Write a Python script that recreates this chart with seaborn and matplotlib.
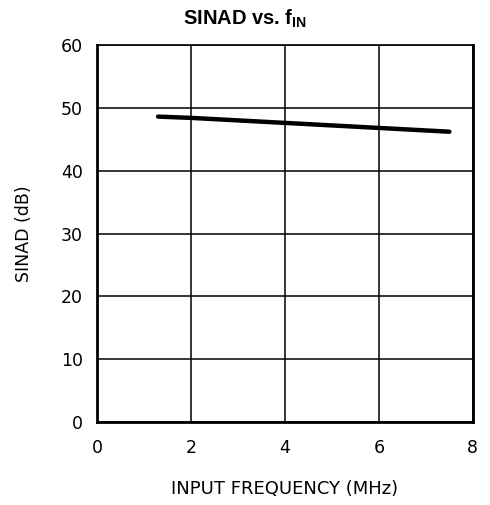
import numpy as np
import pandas as pd
import matplotlib
matplotlib.use("Agg")
import matplotlib.pyplot as plt
import seaborn as sns

# values
freq_mhz = [1.3, 2.0, 4.0, 6.0, 7.5]
sinad_db = [48.6, 48.4, 47.6, 46.8, 46.2]
x_ticks = [0, 2, 4, 6, 8]
y_ticks = [0, 10, 20, 30, 40, 50, 60]

sns.set_theme(style="white")
plt.rcParams['font.family'] = ['DejaVu Sans']
plt.rcParams['mathtext.fontset'] = 'custom'
plt.rcParams['mathtext.bf'] = 'Liberation Sans:bold'

df = pd.DataFrame({"freq": freq_mhz, "sinad": sinad_db})

fig = plt.figure(figsize=(4.9, 5.05), dpi=100)
ax = fig.add_axes([0.198, 0.164, 0.767, 0.747])

sns.lineplot(data=df, x="freq", y="sinad", color="black", linewidth=3.2, ax=ax)

ax.set_xlim(0, 8)
ax.set_ylim(0, 60)
ax.set_xticks(x_ticks)
ax.set_yticks(y_ticks)
ax.grid(True, color="black", linewidth=1.1)
for s in ax.spines.values():
    s.set_color("black")
    s.set_linewidth(2)
ax.spines["top"].set_linewidth(1.2)
ax.tick_params(axis="both", length=0, labelsize=12.5, colors="black")
ax.tick_params(axis="y", pad=10)
ax.tick_params(axis="x", pad=12)

ax.set_xlabel("INPUT FREQUENCY (MHz)", fontsize=13, color="black", labelpad=17)
ax.set_ylabel("SINAD (dB)", fontsize=12.5, color="black", labelpad=20)
fig.text(0.5, 0.985, r"SINAD vs. f$_\mathbf{IN}$", fontsize=14.5, fontweight="bold",
         family="Liberation Sans", color="black", ha="center", va="top")

fig.savefig("out.png", dpi=100)
